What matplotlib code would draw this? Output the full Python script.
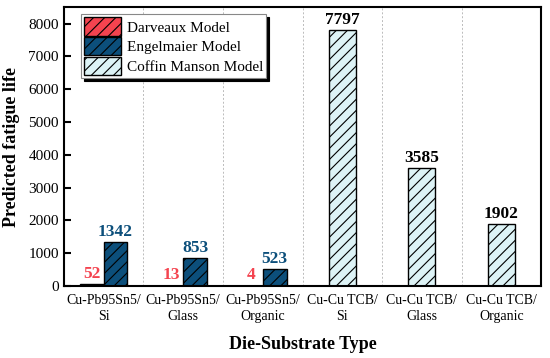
import numpy as np
import matplotlib
matplotlib.use("Agg")
import matplotlib.pyplot as plt

plt.rcParams['font.family'] = ['Liberation Serif', 'DejaVu Serif']
plt.rcParams['hatch.linewidth'] = 0.8

# data
categories = ["Cu-Pb95Sn5/\nSi", "Cu-Pb95Sn5/\nGlass", "Cu-Pb95Sn5/\nOrganic",
              "Cu-Cu TCB/\nSi", "Cu-Cu TCB/\nGlass", "Cu-Cu TCB/\nOrganic"]
darveaux = [52, 13, 4]
engelmaier = [1342, 853, 523]
coffin = [7797, 3585, 1902]

RED = "#f4434f"
BLUE = "#0c4f7b"
CYAN = "#ddf3f6"

fig = plt.figure(figsize=(5.5, 3.58), dpi=100)
ax = fig.add_axes([0.116, 0.201, 0.868, 0.779])

x = np.arange(len(categories))
w = 0.3

xs = x[:3]
b1 = ax.bar(xs - w/2, darveaux, w, color=RED, edgecolor="black", hatch="///",
            linewidth=1.0, label="Darveaux Model")
b2 = ax.bar(xs + w/2, engelmaier, w, color=BLUE, edgecolor="black", hatch="///",
            linewidth=1.0, label="Engelmaier Model")
xc = x[3:]
b3 = ax.bar(xc, coffin, 0.34, color=CYAN, edgecolor="black", hatch="///",
            linewidth=1.0, label="Coffin Manson Model")

for xi, v in zip(xs - w/2, darveaux):
    ax.text(xi, v + 80, str(v), ha="center", va="bottom", color=RED,
            fontsize=12.5, fontweight="bold")
for xi, v in zip(xs + w/2, engelmaier):
    ax.text(xi, v + 60, str(v), ha="center", va="bottom", color=BLUE,
            fontsize=12.5, fontweight="bold")
for xi, v in zip(xc, coffin):
    ax.text(xi, v + 60, str(v), ha="center", va="bottom", color="black",
            fontsize=12.5, fontweight="bold")

for s in np.arange(0.5, 5.5, 1.0):
    ax.axvline(s, color="#bbbbbb", linestyle=(0, (2, 2)), linewidth=0.7, zorder=0)

ax.set_xlim(-0.5, 5.5)
ax.set_ylim(0, 8500)
ax.set_yticks(range(0, 8001, 1000))
ax.set_xticks(x)
ax.set_xticklabels(categories, fontsize=10, linespacing=1.3)
ax.tick_params(axis="y", direction="in", length=5, width=1.5, labelsize=11)
ax.tick_params(axis="x", length=0, pad=6)
for sp in ax.spines.values():
    sp.set_linewidth(1.5)

ax.set_ylabel("Predicted fatigue life", fontsize=13, fontweight="bold", labelpad=6)
ax.set_xlabel("Die-Substrate Type", fontsize=13, fontweight="bold", labelpad=9)

leg = ax.legend(loc="upper left", bbox_to_anchor=(0.03, 0.985), fontsize=11,
                fancybox=False, shadow={"color": "black", "alpha": 1},
                edgecolor="#888888", framealpha=1, handlelength=2.4,
                handleheight=1.45, borderpad=0.2, labelspacing=0.1,
                handletextpad=0.4, borderaxespad=0.2)
leg.get_frame().set_linewidth(0.8)

fig.savefig("out.png", dpi=100)
